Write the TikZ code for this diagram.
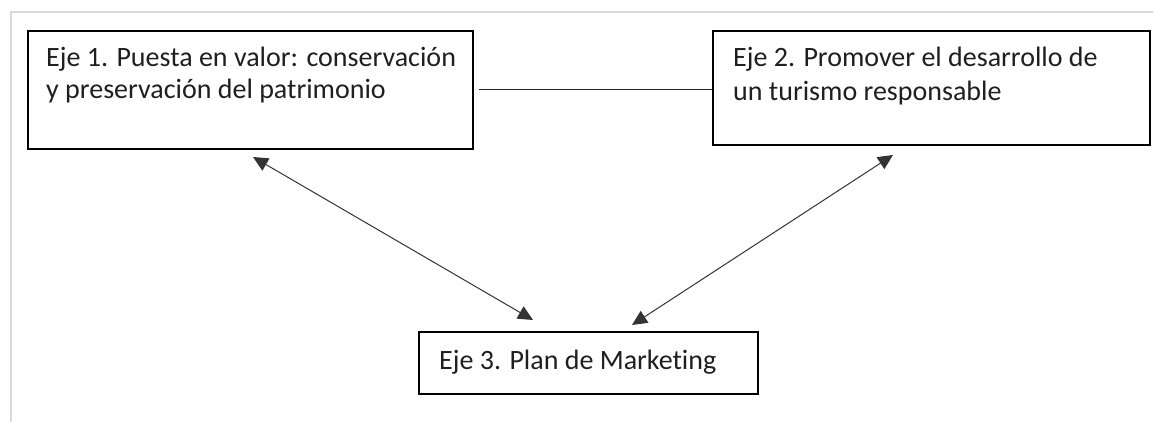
\documentclass[tikz,border=0pt]{standalone}
\usepackage{fontspec}
\setmainfont[Ligatures=NoCommon]{Carlito}
\usetikzlibrary{arrows.meta}
\begin{document}
\begin{tikzpicture}[x=1pt,y=-1pt,
  box/.style={draw=black,line width=2pt,inner sep=0pt,anchor=north west},
  txt/.style={anchor=base west,inner sep=0pt,font=\fontsize{28}{32}\selectfont,text=black!88},
  link/.style={draw=black!85,line width=1pt},
  dbl/.style={draw=black!80,line width=1pt,{Triangle[length=15pt,width=14pt]}-{Triangle[length=15pt,width=14pt]}}]
\useasboundingbox (0,0) rectangle (1153,422);
\draw[black!15,line width=2.5pt] (1153,12) -- (11,12) -- (11,422);
\node[box,minimum width=445pt,minimum height=118pt] (b1) at (27,30) {};
\node[box,minimum width=437pt,minimum height=114pt] (b2) at (712,30) {};
\node[box,minimum width=339pt,minimum height=62pt] (b3) at (418,331) {};
\node[txt] (t1a) at (46,67) {Eje 1. Puesta en valor: conservación};
\node[txt] (t1b) at (46,99) {y preservación del patrimonio};
\node[txt] (t2a) at (733,67) {Eje 2. Promover el desarrollo de};
\node[txt] (t2b) at (733,101) {un turismo responsable};
\node[txt] (t3) at (439,369) {Eje 3. Plan de Marketing};
\coordinate (l1) at ([shift={(5,0)}]b1.east);
\draw[link] (l1) -- (b2.west |- l1);
\coordinate (a1s) at ([shift={(226,7)}]b1.south west);
\coordinate (a1e) at ([shift={(115,-11)}]b3.north west);
\draw[dbl] (a1s) -- (a1e);
\coordinate (a2s) at ([shift={(181,9)}]b2.south west);
\coordinate (a2e) at ([shift={(214,-6)}]b3.north west);
\draw[dbl] (a2s) -- (a2e);
\end{tikzpicture}
\end{document}
